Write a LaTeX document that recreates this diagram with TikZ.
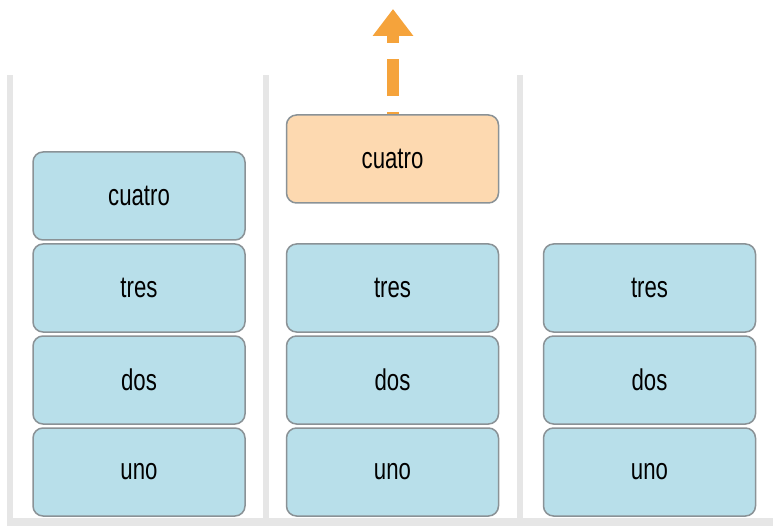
\documentclass[tikz,border=0pt]{standalone}
\usepackage{fontspec}
\setmainfont{Liberation Sans}[FakeStretch=0.74]
\usepackage{tikz}
\usetikzlibrary{arrows.meta,positioning}
\definecolor{stackblue}{HTML}{B8DFEA}
\definecolor{popfill}{HTML}{FDD9B0}
\definecolor{poparrow}{HTML}{F5A33B}
\definecolor{boxline}{HTML}{8A9296}
\definecolor{wallgray}{HTML}{E6E6E6}

\begin{document}
\begin{tikzpicture}[x=1pt, y=-1pt,
			item/.style={shape=rectangle,draw=boxline,line width=1.5pt,rounded corners=10pt,
						minimum width=212pt,minimum height=88pt,inner sep=0,
						fill=stackblue,font=\fontsize{30}{36}\selectfont},
			popped/.style={item,fill=popfill},
			wall/.style={line width=6pt,color=wallgray},
			poparrow/.style={line width=12pt,color=poparrow,dash pattern=on 37pt off 16pt,dash phase=34pt,
						-{Triangle[length=27pt,width=39pt]}}]
			\useasboundingbox (0,0) rectangle (773,526);
			% walls of the three stacks
			\coordinate (w1t) at (10,75); \coordinate (w1b) at (10,521);
			\coordinate (w2t) at (266,75); \coordinate (w2b) at (266,521);
			\coordinate (w3t) at (520,75); \coordinate (w3b) at (520,521);
			\coordinate (floorl) at (7,521.5); \coordinate (floorr) at (773,521.5);
			\draw[wall] (w1t) -- (w1b); \draw[wall] (w2t) -- (w2b); \draw[wall] (w3t) -- (w3b);
			\draw[wall,line width=8pt] (floorl) -- (floorr);
			% first stack
			\node[item] (auno) at (139,472) {uno};
			\node[item] (ados) at (139,380) {dos};
			\node[item] (atres) at (139,288) {tres};
			\node[item] (acuatro) at (139,196) {cuatro};
			% second stack, top item popped
			\node[item] (buno) at (392.5,472) {uno};
			\node[item] (bdos) at (392.5,380) {dos};
			\node[item] (btres) at (392.5,288) {tres};
			\coordinate (tip) at (393,9);
			\draw[poparrow] (393,115) -- (tip);
			\node[popped] (bcuatro) at (392.5,159) {cuatro};
			% third stack
			\node[item] (cuno) at (649.5,472) {uno};
			\node[item] (cdos) at (649.5,380) {dos};
			\node[item] (ctres) at (649.5,288) {tres};
		\end{tikzpicture}
\end{document}
